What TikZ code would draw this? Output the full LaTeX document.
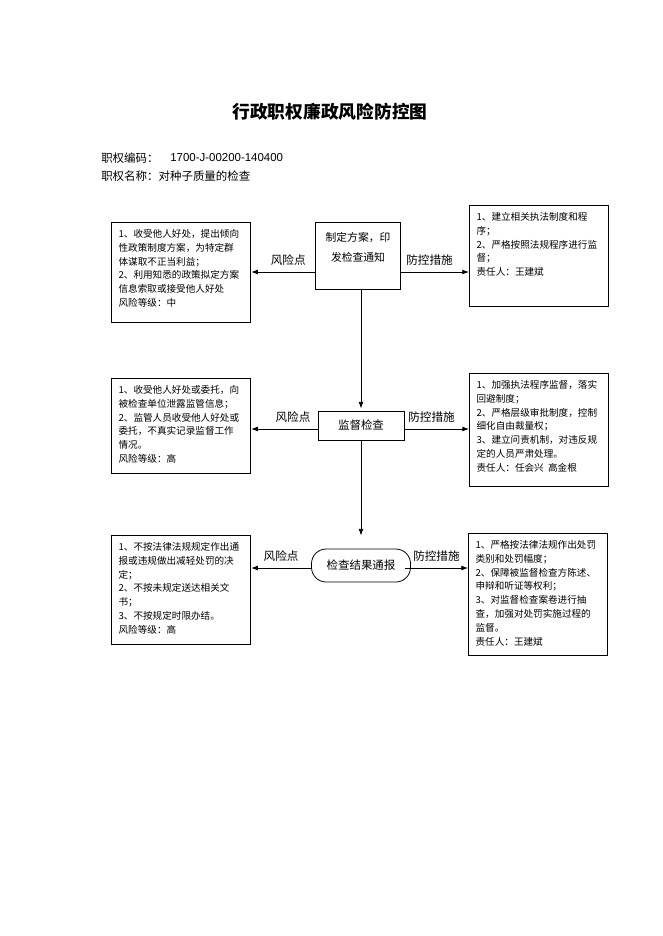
\documentclass[tikz,border=0pt]{standalone}
\usepackage{fontspec}
\setmainfont{Noto Sans CJK SC}
\newfontfamily\codefont{Liberation Sans}
\usetikzlibrary{arrows.meta}

\begin{document}
\begin{tikzpicture}[x=0.75pt, y=-0.75pt,
	box/.style={draw, line width=0.6pt, anchor=north west, minimum width=104.5pt, inner sep=0pt},
	boxtext/.style={anchor=north west, inner sep=0pt, align=left, xshift=5.5pt, yshift=-5.2pt, font=\fontsize{7.2pt}{10.4pt}\selectfont},
	stepbox/.style={draw, line width=0.6pt, inner sep=0pt, font=\fontsize{8.6pt}{10pt}\selectfont},
	lab/.style={above=2.5pt, inner sep=2pt, font=\fontsize{8.7pt}{10pt}\selectfont},
	arr/.style={line width=0.6pt, -{Latex[length=5pt,width=3.6pt]}}]
								\useasboundingbox (0,0) rectangle (662,936);
								\node (title) at (330,112) {\fontsize{13.3pt}{16pt}\selectfont\bfseries 行政职权廉政风险防控图};
								\node[anchor=west, inner sep=0pt, font=\fontsize{8.6pt}{10pt}\selectfont] (codelab) at (101,158) {职权编码：};
								\node[anchor=west, inner sep=0pt, font=\fontsize{8.6pt}{10pt}\selectfont] (code) at (170,158) {\codefont 1700-J-00200-140400};
								\node[anchor=west, inner sep=0pt, font=\fontsize{8.6pt}{10pt}\selectfont] (name) at (101,176) {职权名称：对种子质量的检查};
								% main steps
								\node[stepbox, minimum width=63.75pt, minimum height=50.25pt] (m1) at (358,255.5) {};
								\node[align=center, font=\fontsize{8.1pt}{15pt}\selectfont] (m1text) at (358,247) {制定方案，印\\发检查通知};
								\node[stepbox, minimum width=64.5pt, minimum height=21.75pt] (m2) at (361,425.5) {监督检查};
								\node[stepbox, rounded corners=11pt, minimum width=74.25pt, minimum height=24.75pt] (m3) at (361,565.5) {检查结果通报};
								% risk points
								\node[box, minimum height=75pt] (r1) at (111,222) {};
								\node[boxtext] (r1text) at (r1.north west) {1、收受他人好处，提出倾向\\性政策制度方案，为特定群\\体谋取不正当利益；\\2、利用知悉的政策拟定方案\\信息索取或接受他人好处\\风险等级：中};
								\node[box, minimum height=71.25pt] (r2) at (111,378) {};
								\node[boxtext] (r2text) at (r2.north west) {1、收受他人好处或委托，向\\被检查单位泄露监管信息；\\2、监管人员收受他人好处或\\委托，不真实记录监督工作\\情况。\\风险等级：高};
								\node[box, minimum height=81.75pt] (r3) at (111,535) {};
								\node[boxtext] (r3text) at (r3.north west) {1、不按法律法规规定作出通\\报或违规做出减轻处罚的决\\定；\\2、不按未规定送达相关文\\书；\\3、不按规定时限办结。\\风险等级：高};
								% control measures
								\node[box, minimum height=75.75pt] (c1) at (469,205) {};
								\node[boxtext] (c1text) at (c1.north west) {1、建立相关执法制度和程\\序；\\2、严格按照法规程序进行监\\督；\\责任人：王建斌};
								\node[box, minimum height=84.75pt] (c2) at (469,373) {};
								\node[boxtext] (c2text) at (c2.north west) {1、加强执法程序监督，落实\\回避制度；\\2、严格层级审批制度，控制\\细化自由裁量权；\\3、建立问责机制，对违反规\\定的人员严肃处理。\\责任人：任会兴\ \ 高金根};
								\node[box, minimum height=91.5pt] (c3) at (468,533) {};
								\node[boxtext] (c3text) at (c3.north west) {1、严格按法律法规作出处罚\\类别和处罚幅度；\\2、保障被监督检查方陈述、\\申辩和听证等权利；\\3、对监督检查案卷进行抽\\查，加强对处罚实施过程的\\监督。\\责任人：王建斌};
								% connectors
								\draw[arr, shorten >=1.5pt] (m1.south -| m2) -- (m2.north);
								\draw[arr, shorten >=9.75pt] (m2.south) -- (m3.north);
								\coordinate (y1) at (0,272);
								\coordinate (y2) at (0,429);
								\coordinate (y3) at (0,568);
								\coordinate (e1) at (m1.east);
								\coordinate (e2) at (m2.east);
								\coordinate (e3) at ([xshift=-4.5pt]m3.east);
								\foreach \i/\lp/\rp in {1/0.42/0.42, 2/0.37/0.42, 3/0.5/0.5} {
									\draw[arr] (m\i.west |- y\i) -- node[lab, pos=\lp] {风险点} (r\i.east |- y\i);
									\draw[arr] (e\i |- y\i) -- node[lab, pos=\rp] {防控措施} (c\i.west |- y\i);
								}
							\end{tikzpicture}
\end{document}
